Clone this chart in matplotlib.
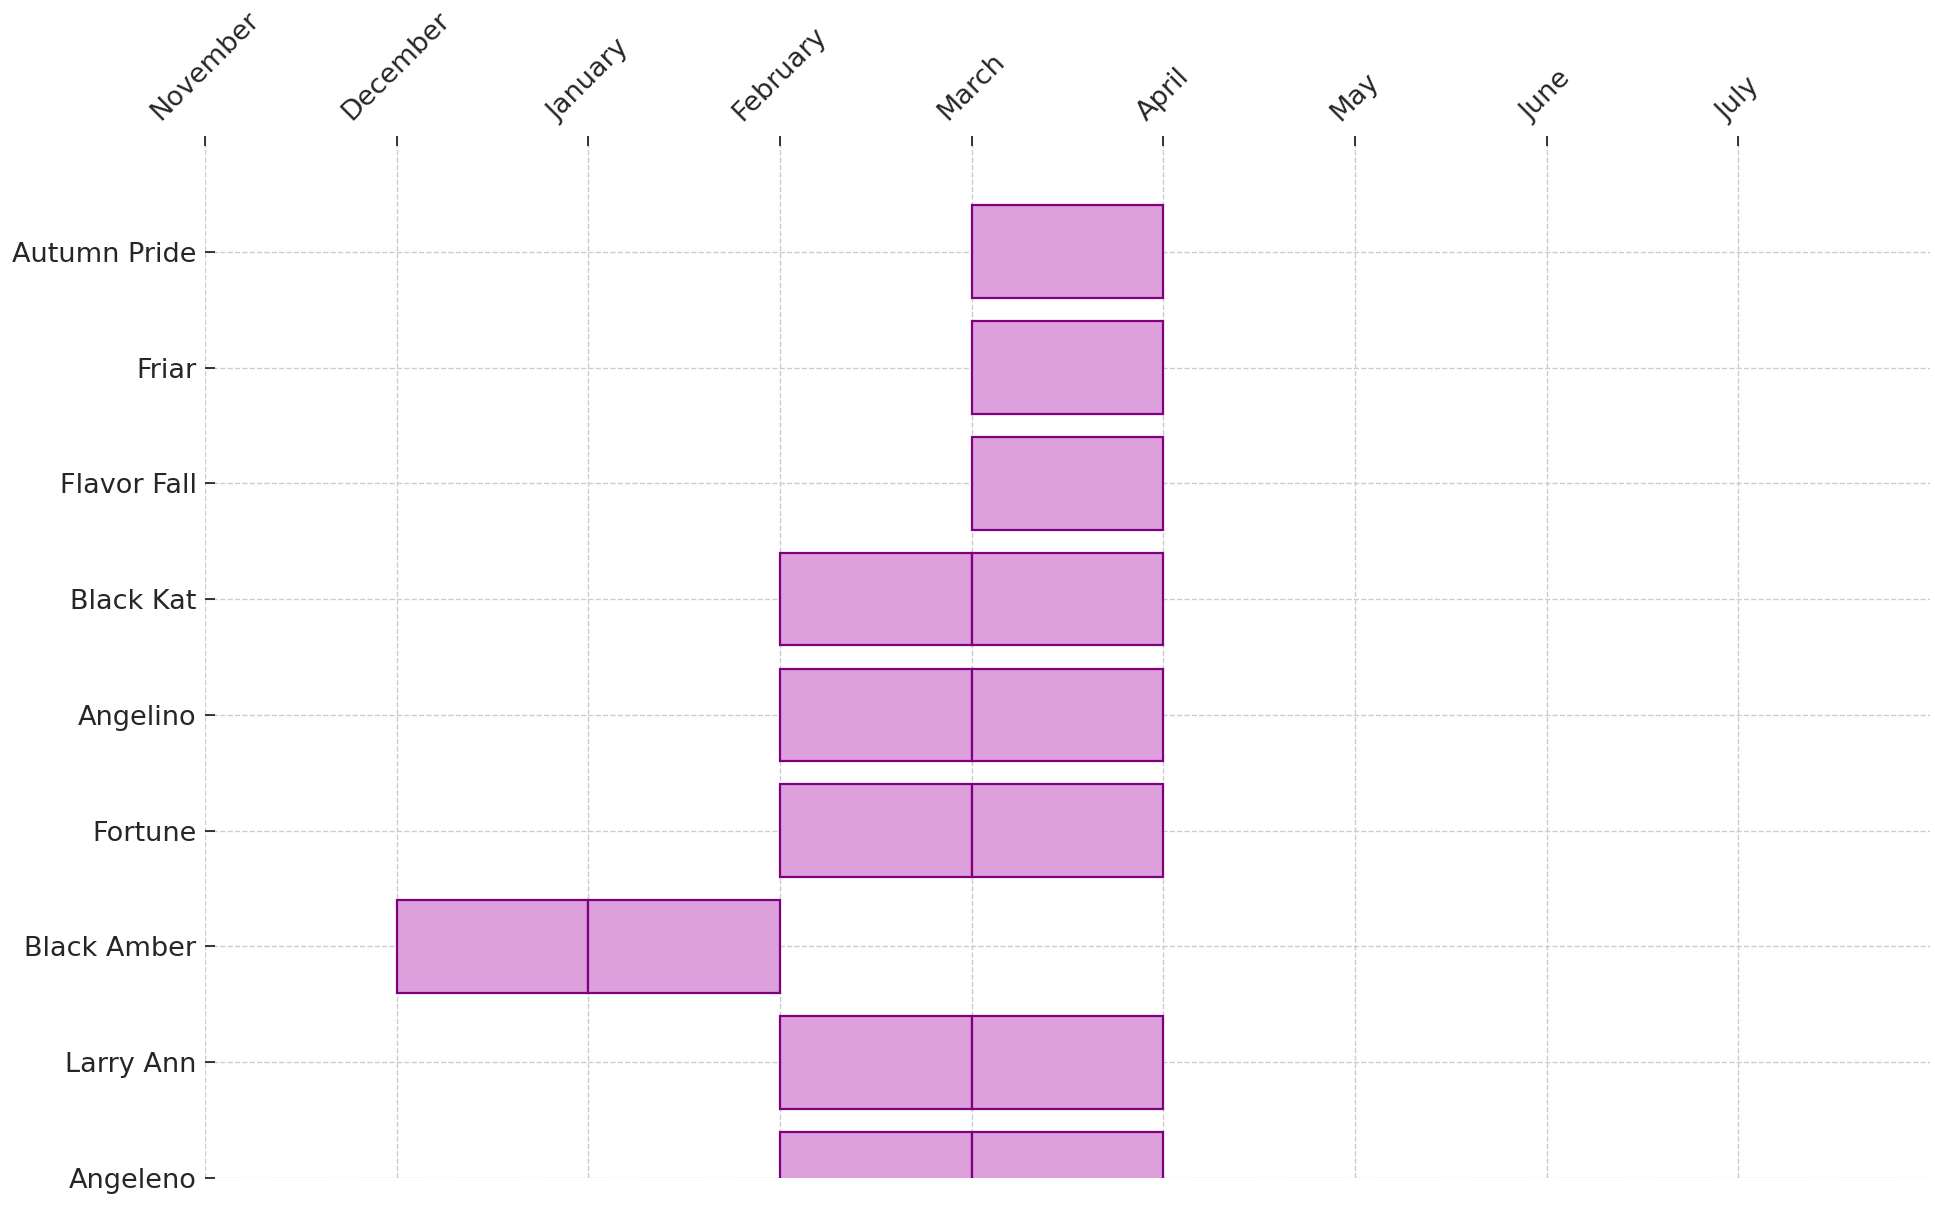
import matplotlib
matplotlib.use("Agg")
import matplotlib.pyplot as plt

# harvest calendar: variety -> months in season
months = ["November", "December", "January", "February", "March",
          "April", "May", "June", "July"]
varieties = ["Autumn Pride", "Friar", "Flavor Fall", "Black Kat", "Angelino",
             "Fortune", "Black Amber", "Larry Ann", "Angeleno"]
harvest = [
    ["March"],
    ["March"],
    ["March"],
    ["February", "March"],
    ["February", "March"],
    ["February", "March"],
    ["December", "January"],
    ["February", "March"],
    ["February", "March"],
]

fig = plt.figure(figsize=(19.35, 12.09), dpi=100)
ax = fig.add_axes([0.1059, 0.0256, 0.8915, 0.8619])

for i, season in enumerate(harvest):
    for m in season:
        ax.barh(i, 1, left=months.index(m), height=0.8,
                color="plum", edgecolor="purple", linewidth=1.6, zorder=2)

ax.set_xlim(0, len(months))
ax.set_ylim(len(varieties) - 1, -1)

ax.xaxis.tick_top()
ax.set_xticks(range(len(months)))
ax.set_xticklabels(months, rotation=45, fontsize=19.5, color="0.15")
ax.set_yticks(range(len(varieties)))
ax.set_yticklabels(varieties, fontsize=19.5, color="0.15")
ax.tick_params(axis="x", direction="in", length=7, width=1.3, color="0.15", pad=7.5)
ax.tick_params(axis="y", direction="in", length=7, width=1.3, color="0.15", pad=6)

ax.set_axisbelow(True)
ax.grid(True, linestyle="--", color="#cccccc", linewidth=1.0)
for s in ax.spines.values():
    s.set_visible(False)

fig.savefig("out.png", dpi=100)
